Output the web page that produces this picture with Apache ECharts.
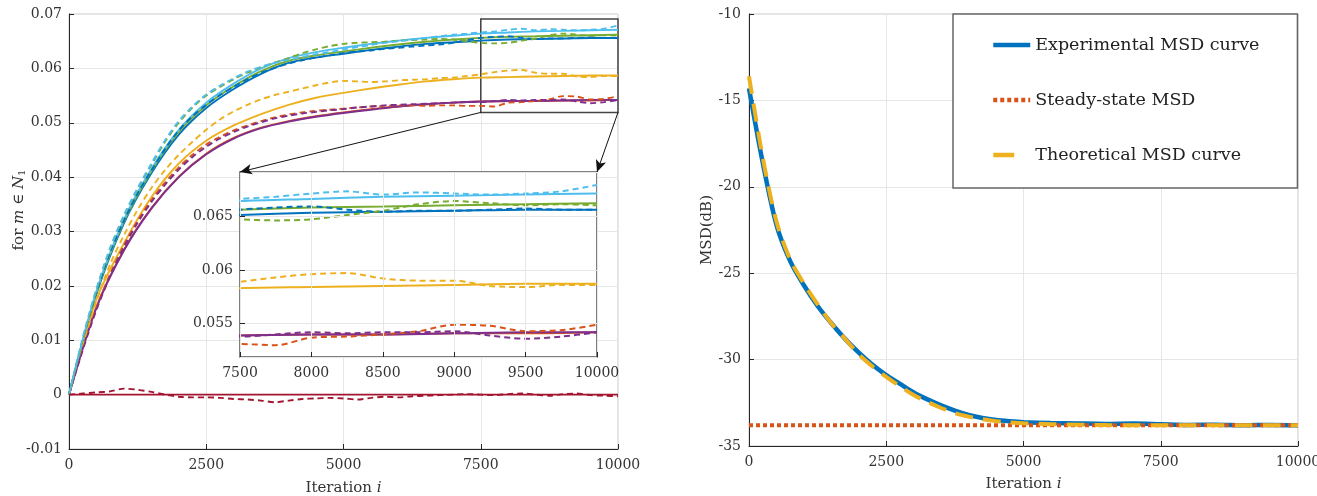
<!DOCTYPE html>
<html>
<head>
<meta charset="utf-8">
<script src="https://cdn.jsdelivr.net/npm/echarts@6/dist/echarts.min.js"></script>
<style>
  html, body { margin: 0; background: #fff; }
  #chart { width: 1317px; height: 496px; }
</style>
</head>
<body>
<div id="chart"></div>
<script>
// ---- data ----
const ITER_COARSE = [0, 500, 1000, 1500, 2000, 2500, 3000, 3500, 4000, 4500, 5000,
  5500, 6000, 6500, 7000, 7500, 8000, 8500, 9000, 9500, 10000];
const ITER_FINE = [0, 250, 500, 750, 1000, 1250, 1500, 1750, 2000, 2250, 2500, 2750,
  3000, 3250, 3500, 3750, 4000, 4250, 4500, 4750, 5000, 5250, 5500, 5750, 6000, 6250,
  6500, 6750, 7000, 7250, 7500, 7750, 8000, 8250, 8500, 8750, 9000, 9250, 9500, 9750, 10000];

// theoretical (solid) curves
const BLUE_THEORY = [0, 0.0185, 0.0315, 0.0407, 0.0478, 0.0527, 0.0562, 0.0590, 0.0610, 0.0620, 0.0627,
  0.0634, 0.0640, 0.0645, 0.0648, 0.0651, 0.0653, 0.0654, 0.0655, 0.0656, 0.0656];
const LIGHTBLUE_THEORY = [0, 0.0190, 0.0322, 0.0415, 0.0487, 0.0537, 0.0572, 0.0600, 0.0619, 0.0630, 0.0638,
  0.0645, 0.0651, 0.0656, 0.0660, 0.0664, 0.0666, 0.0668, 0.0669, 0.0670, 0.0671];
const GREEN_THEORY = [0, 0.0188, 0.0318, 0.0411, 0.0483, 0.0532, 0.0567, 0.0595, 0.0614, 0.0624, 0.0631,
  0.0638, 0.0644, 0.0649, 0.0653, 0.0656, 0.0658, 0.0659, 0.0660, 0.0661, 0.0662];
const YELLOW_THEORY = [0, 0.0175, 0.0278, 0.0363, 0.0425, 0.0467, 0.0495, 0.0516, 0.0533, 0.0546, 0.0555,
  0.0563, 0.0570, 0.0576, 0.0580, 0.0583, 0.0584, 0.0585, 0.0586, 0.0587, 0.0587];
const ORANGE_THEORY = [0, 0.0161, 0.0266, 0.0343, 0.0401, 0.0443, 0.0472, 0.0491, 0.0503, 0.0512, 0.0519,
  0.0525, 0.0530, 0.0534, 0.0537, 0.0539, 0.0540, 0.0540, 0.0541, 0.0541, 0.0542];
const PURPLE_THEORY = [0, 0.0160, 0.0265, 0.0342, 0.0400, 0.0442, 0.0471, 0.0490, 0.0502, 0.0511, 0.0518,
  0.0524, 0.0530, 0.0534, 0.0537, 0.0539, 0.0540, 0.0540, 0.0541, 0.0542, 0.0542];
const RED_THEORY = [0, 0, 0, 0, 0, 0, 0, 0, 0, 0, 0, 0, 0, 0, 0, 0, 0, 0, 0, 0, 0];

// simulated (dashed) curves
const BLUE_SIM = [0, 0.0098, 0.0188, 0.0262, 0.0320, 0.0370, 0.0412, 0.0452, 0.0486, 0.0512, 0.0533,
  0.0551, 0.0566, 0.0580, 0.0592, 0.0601, 0.0609, 0.0615, 0.0620, 0.0624, 0.0628, 0.0631, 0.0633,
  0.0636, 0.0638, 0.0640, 0.0642, 0.0644, 0.0647, 0.0652, 0.0656, 0.0658, 0.0659, 0.0656, 0.0654,
  0.0655, 0.0655, 0.0656, 0.0657, 0.0656, 0.0656];
const LIGHTBLUE_SIM = [0, 0.0105, 0.0195, 0.0270, 0.0330, 0.0380, 0.0425, 0.0468, 0.0503, 0.0530, 0.0552,
  0.0568, 0.0582, 0.0594, 0.0603, 0.0610, 0.0616, 0.0621, 0.0626, 0.0630, 0.0635, 0.0639, 0.0643,
  0.0647, 0.0650, 0.0653, 0.0656, 0.0659, 0.0662, 0.0664, 0.0666, 0.0668, 0.0671, 0.0673, 0.0670,
  0.0672, 0.0671, 0.0670, 0.0671, 0.0673, 0.0679];
const GREEN_SIM = [0, 0.0100, 0.0192, 0.0268, 0.0328, 0.0378, 0.0422, 0.0465, 0.0500, 0.0528, 0.0550,
  0.0566, 0.0580, 0.0592, 0.0602, 0.0611, 0.0619, 0.0628, 0.0635, 0.0641, 0.0645, 0.0647, 0.0648,
  0.0649, 0.0651, 0.0652, 0.0653, 0.0654, 0.0653, 0.0650, 0.0647, 0.0646, 0.0647, 0.0651, 0.0655,
  0.0661, 0.0664, 0.0662, 0.0660, 0.0661, 0.0660];
const YELLOW_SIM = [0, 0.0090, 0.0172, 0.0240, 0.0293, 0.0340, 0.0380, 0.0413, 0.0441, 0.0465, 0.0487,
  0.0506, 0.0521, 0.0533, 0.0543, 0.0551, 0.0557, 0.0563, 0.0569, 0.0574, 0.0577, 0.0576, 0.0575,
  0.0576, 0.0578, 0.0579, 0.0580, 0.0582, 0.0583, 0.0586, 0.0589, 0.0593, 0.0596, 0.0597, 0.0592,
  0.0590, 0.0590, 0.0585, 0.0584, 0.0586, 0.0586];
const ORANGE_SIM = [0, 0.0085, 0.0160, 0.0222, 0.0275, 0.0320, 0.0358, 0.0390, 0.0418, 0.0441, 0.0460,
  0.0474, 0.0486, 0.0495, 0.0503, 0.0510, 0.0515, 0.0519, 0.0522, 0.0524, 0.0526, 0.0528, 0.0530,
  0.0531, 0.0532, 0.0532, 0.0531, 0.0532, 0.0532, 0.0531, 0.0531, 0.0530, 0.0537, 0.0538, 0.0540,
  0.0543, 0.0549, 0.0548, 0.0543, 0.0544, 0.0549];
const PURPLE_SIM = [0, 0.0082, 0.0156, 0.0218, 0.0271, 0.0316, 0.0354, 0.0386, 0.0414, 0.0437, 0.0456,
  0.0471, 0.0483, 0.0493, 0.0501, 0.0508, 0.0513, 0.0517, 0.0520, 0.0523, 0.0525, 0.0528, 0.0530,
  0.0532, 0.0533, 0.0534, 0.0535, 0.0536, 0.0537, 0.0538, 0.0538, 0.0540, 0.0542, 0.0541, 0.0542,
  0.0542, 0.0543, 0.0539, 0.0536, 0.0538, 0.0542];
const RED_SIM = [0, 0.0002, 0.0004, 0.0006, 0.0011, 0.0009, 0.0005, 0.0000, -0.0004, -0.0005, -0.0005,
  -0.0006, -0.0008, -0.0009, -0.0011, -0.0014, -0.0011, -0.0008, -0.0007, -0.0006, -0.0007, -0.0009,
  -0.0006, -0.0004, -0.0005, -0.0003, -0.0002, -0.0001, 0.0000, 0.0001, 0.0000, -0.0001, 0.0001,
  0.0002, 0.0000, -0.0002, 0.0001, 0.0002, -0.0001, -0.0002, -0.0003];

// zoomed window shown in the inset
const INSET_X = [7500, 10000];
const INSET_Y = [0.0519, 0.0691];

// right panel: MSD in dB
const MSD_ITER = [0, 250, 500, 750, 1000, 1250, 1500, 1750, 2000, 2250, 2500, 2750, 3000, 3250, 3500,
  3750, 4000, 4250, 4500, 4750, 5000, 5500, 6000, 6500, 7000, 7500, 8000, 8500, 9000, 9500, 10000];
const MSD_EXPERIMENT = [-14.3, -18.6, -22.2, -24.3, -25.7, -26.9, -27.9, -28.8, -29.6, -30.3, -30.9,
  -31.4, -31.9, -32.3, -32.65, -32.95, -33.2, -33.38, -33.5, -33.57, -33.62, -33.67, -33.7, -33.72,
  -33.7, -33.74, -33.78, -33.77, -33.8, -33.78, -33.8];
const MSD_THEORY = [-13.6, -18.3, -22.0, -24.2, -25.6, -26.8, -27.9, -28.8, -29.7, -30.4, -31.0,
  -31.55, -32.05, -32.45, -32.8, -33.1, -33.3, -33.45, -33.56, -33.63, -33.68, -33.74, -33.77, -33.79,
  -33.8, -33.8, -33.8, -33.8, -33.8, -33.8, -33.8];
const MSD_STEADY = -33.8;
const MSD_NAMES = ['Experimental MSD curve', 'Steady-state MSD', 'Theoretical MSD curve'];

// ---- styling ----
const FONT = 'DejaVu Serif';
const C = {
  blue: '#0072BD', orange: '#D95319', yellow: '#EDB120', purple: '#7E2F8E',
  green: '#77AC30', lightblue: '#4DBEEE', red: '#A2142F'
};

function pairs(xs, ys) {
  return xs.map((x, i) => [x, ys[i]]);
}

const curves = [
  // [color, theory, sim]
  [C.blue, BLUE_THEORY, BLUE_SIM],
  [C.orange, ORANGE_THEORY, ORANGE_SIM],
  [C.yellow, YELLOW_THEORY, YELLOW_SIM],
  [C.purple, PURPLE_THEORY, PURPLE_SIM],
  [C.green, GREEN_THEORY, GREEN_SIM],
  [C.lightblue, LIGHTBLUE_THEORY, LIGHTBLUE_SIM],
  [C.red, RED_THEORY, RED_SIM]
];

function leftSeries(axisIdx, z, w) {
  let out = [];
  curves.forEach(c => {
    out.push({
      type: 'line', xAxisIndex: axisIdx, yAxisIndex: axisIdx, z: z,
      data: pairs(ITER_COARSE, c[1]), smooth: 0.3, showSymbol: false, symbol: 'none',
      lineStyle: { color: c[0], width: w }, silent: true
    });
  });
  curves.forEach(c => {
    out.push({
      type: 'line', xAxisIndex: axisIdx, yAxisIndex: axisIdx, z: z,
      data: pairs(ITER_FINE, c[2]), smooth: 0.3, showSymbol: false, symbol: 'none',
      lineStyle: { color: c[0], width: w, type: [6, 4] }, silent: true
    });
  });
  return out;
}

const plain = v => String(v);
const tickLabel = { fontFamily: FONT, fontSize: 14, color: '#333', formatter: plain };
const gridLine = { show: true, lineStyle: { color: '#e6e6e6', width: 1 } };
const axisLine = { show: true, onZero: false, lineStyle: { color: '#262626', width: 1 } };
const axisTick = { show: true, inside: true, length: 5, lineStyle: { color: '#262626' } };
const nameStyle = {
  fontFamily: FONT, fontSize: 15, color: '#333',
  rich: { i: { fontFamily: FONT, fontSize: 15, fontStyle: 'italic', color: '#333' } }
};

let chart = echarts.init(document.getElementById('chart'));

let option = {
  backgroundColor: '#fff',
  animation: false,
  grid: [
    { left: 69, right: 699, top: 14, bottom: 47, outerBoundsMode: 'none',
      show: true, borderColor: '#c8c8c8', borderWidth: 1 },
    { left: 240, right: 720, top: 172, bottom: 139, outerBoundsMode: 'none', show: true, z: 3,
      backgroundColor: '#fff', borderColor: '#555', borderWidth: 1.5 },
    { left: 749, right: 19, top: 14, bottom: 50, outerBoundsMode: 'none',
      show: true, borderColor: '#c8c8c8', borderWidth: 1 }
  ],
  xAxis: [
    { type: 'value', gridIndex: 0, min: 0, max: 10000, interval: 2500,
      axisLine: axisLine, axisTick: axisTick, splitLine: gridLine,
      axisLabel: Object.assign({ margin: 9 }, tickLabel),
      name: 'Iteration {i|i}', nameLocation: 'middle', nameGap: 32, nameTextStyle: nameStyle },
    { type: 'value', gridIndex: 1, min: INSET_X[0], max: INSET_X[1], interval: 500, z: 5,
      axisLine: { show: false }, axisTick: axisTick, splitLine: gridLine,
      axisLabel: Object.assign({ margin: 9 }, tickLabel) },
    { type: 'value', gridIndex: 2, min: 0, max: 10000, interval: 2500,
      axisLine: axisLine, axisTick: axisTick, splitLine: gridLine,
      axisLabel: Object.assign({ margin: 9 }, tickLabel),
      name: 'Iteration {i|i}', nameLocation: 'middle', nameGap: 31, nameTextStyle: nameStyle }
  ],
  yAxis: [
    { type: 'value', gridIndex: 0, min: -0.01, max: 0.07, interval: 0.01,
      axisLine: axisLine, axisTick: axisTick, splitLine: gridLine,
      axisLabel: Object.assign({ margin: 7 }, tickLabel) },
    { type: 'value', gridIndex: 1, min: INSET_Y[0], max: INSET_Y[1], splitNumber: 3, z: 5,
      axisLine: { show: false }, axisTick: axisTick, splitLine: gridLine,
      axisLabel: Object.assign({ margin: 7, showMinLabel: false, showMaxLabel: false }, tickLabel) },
    { type: 'value', gridIndex: 2, min: -35, max: -10, interval: 5,
      axisLine: axisLine, axisTick: axisTick, splitLine: gridLine,
      axisLabel: Object.assign({ margin: 8 }, tickLabel),
      name: 'MSD(dB)', nameLocation: 'middle', nameGap: 33, nameTextStyle: nameStyle }
  ],
  legend: {
    data: [
      { name: MSD_NAMES[0] },
      { name: MSD_NAMES[1] },
      { name: MSD_NAMES[2], lineStyle: { type: [21, 30] } }
    ],
    orient: 'vertical', left: 953, top: 14,
    padding: [22, 38, 24, 38], itemGap: 37, itemWidth: 37, itemHeight: 18,
    itemStyle: { opacity: 0 },
    lineStyle: { width: 4.5 },
    backgroundColor: '#fff', borderColor: '#666', borderWidth: 1.5, borderRadius: 0,
    textStyle: { fontFamily: FONT, fontSize: 17.5, color: '#222' }
  },
  graphic: [
    { type: 'text', x: 19, y: 210, rotation: Math.PI / 2,
      style: {
        text: 'for {m|m} \u2208 {n|N}{s|1}', align: 'center', verticalAlign: 'middle',
        fontFamily: FONT, fontSize: 15, fill: '#333',
        rich: {
          m: { fontFamily: FONT, fontSize: 15, fontStyle: 'italic', fill: '#333' },
          n: { fontFamily: FONT, fontSize: 15, fontStyle: 'italic', fill: '#333' },
          s: { fontFamily: FONT, fontSize: 10, fill: '#333', padding: [7, 0, 0, 0] }
        }
      } }
  ],
  series: []
};

option.series = leftSeries(0, 2, 1.9).concat(leftSeries(1, 4, 2)).concat([
  { name: MSD_NAMES[0], type: 'line', xAxisIndex: 2, yAxisIndex: 2,
    data: pairs(MSD_ITER, MSD_EXPERIMENT), smooth: 0.3, showSymbol: false, symbol: 'none',
    color: C.blue, lineStyle: { color: C.blue, width: 4.5 } },
  { name: MSD_NAMES[1], type: 'line', xAxisIndex: 2, yAxisIndex: 2,
    data: [[0, MSD_STEADY], [10000, MSD_STEADY]], showSymbol: false, symbol: 'none',
    color: C.orange, lineStyle: { color: C.orange, width: 4, type: [4, 3] } },
  { name: MSD_NAMES[2], type: 'line', xAxisIndex: 2, yAxisIndex: 2,
    data: pairs(MSD_ITER, MSD_THEORY), smooth: 0.3, showSymbol: false, symbol: 'none',
    color: C.yellow, lineStyle: { color: C.yellow, width: 4, type: [18, 10] } }
]);

chart.setOption(option);

// zoom box on the main panel, arrows pointing to the inset's top corners
let tl = chart.convertFromPixel({ gridIndex: 0 },
  chart.convertToPixel({ gridIndex: 1 }, [INSET_X[0], INSET_Y[1]]));
let tr = chart.convertFromPixel({ gridIndex: 0 },
  chart.convertToPixel({ gridIndex: 1 }, [INSET_X[1], INSET_Y[1]]));

option.series.push({
  type: 'line', xAxisIndex: 0, yAxisIndex: 0, z: 3, data: [], silent: true,
  markArea: {
    silent: true,
    itemStyle: { color: 'rgba(0,0,0,0)', borderColor: '#444', borderWidth: 1.5 },
    data: [[{ coord: [INSET_X[0], INSET_Y[0]] }, { coord: [INSET_X[1], INSET_Y[1]] }]]
  },
  markLine: {
    silent: true, symbol: ['none', 'arrow'], symbolSize: [8, 12],
    label: { show: false },
    lineStyle: { color: '#111', width: 1, type: 'solid' },
    data: [
      [{ coord: [INSET_X[0], INSET_Y[0]] }, { coord: tl }],
      [{ coord: [INSET_X[1], INSET_Y[0]] }, { coord: tr }]
    ]
  }
});
chart.setOption({ series: option.series }, { replaceMerge: ['series'] });
</script>
</body>
</html>
